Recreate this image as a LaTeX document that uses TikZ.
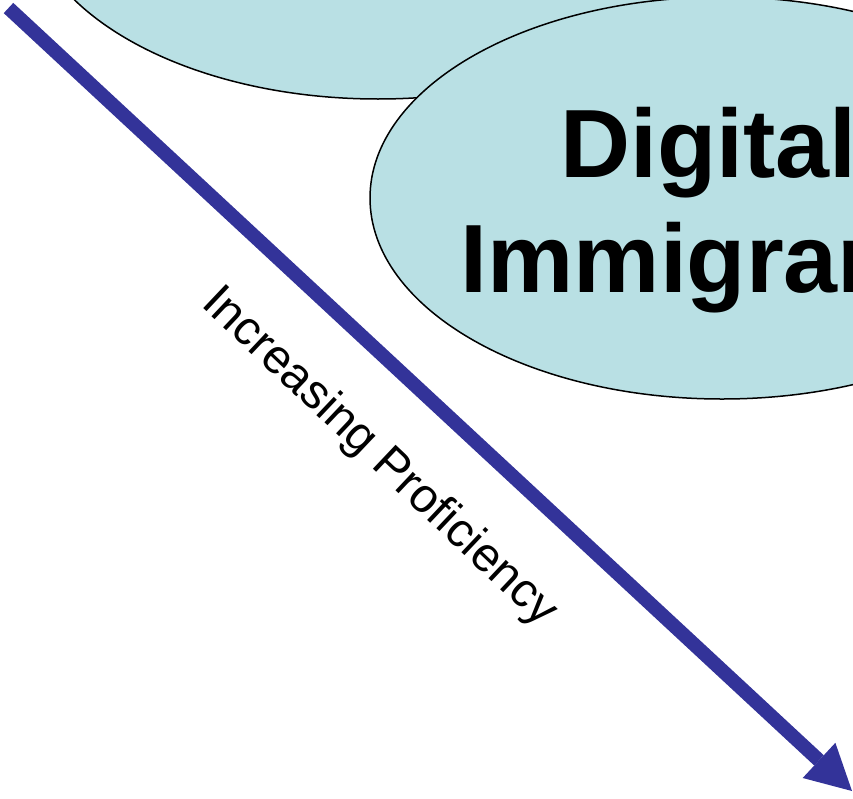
\documentclass[tikz,border=0pt]{standalone}
\usepackage{fontspec}
\setmainfont{Liberation Sans}
\usetikzlibrary{positioning}
\usetikzlibrary{shapes.geometric}
\usetikzlibrary{arrows.meta}
\definecolor{bubble}{RGB}{185,224,228}
\definecolor{trendblue}{RGB}{51,51,153}

\begin{document}
\begin{tikzpicture}[
  x=1pt,y=-1pt,
  group/.style={draw,ellipse,fill=bubble,line width=1.5pt,minimum width=704pt,minimum height=402pt,inner sep=0pt},
  grouplabel/.style={font=\fontsize{97}{115}\selectfont\bfseries,align=center,inner sep=0pt},
  trend/.style={draw=trendblue,line width=14pt,-{Triangle[length=45pt,width=48pt,line width=0pt]}}
]
\clip (0,0) rectangle (853,798);

\node[group] (upper) at (378,-102) {};
\node[group] (immigrants) at (722,198) {};
\node[grouplabel,anchor=north] (immlabel) at (722,106.7) {Digital\kern0.28em\\Immigrants};

\coordinate (start) at (8.5,8);
\coordinate (end) at (852,791);
\draw[trend] (start) -- (end);
\node[font=\fontsize{48}{58}\selectfont,rotate=-43.4,anchor=base west,inner sep=0pt] (proficiency) at (200,305) {Increasing Proficiency};
\end{tikzpicture}
\end{document}
